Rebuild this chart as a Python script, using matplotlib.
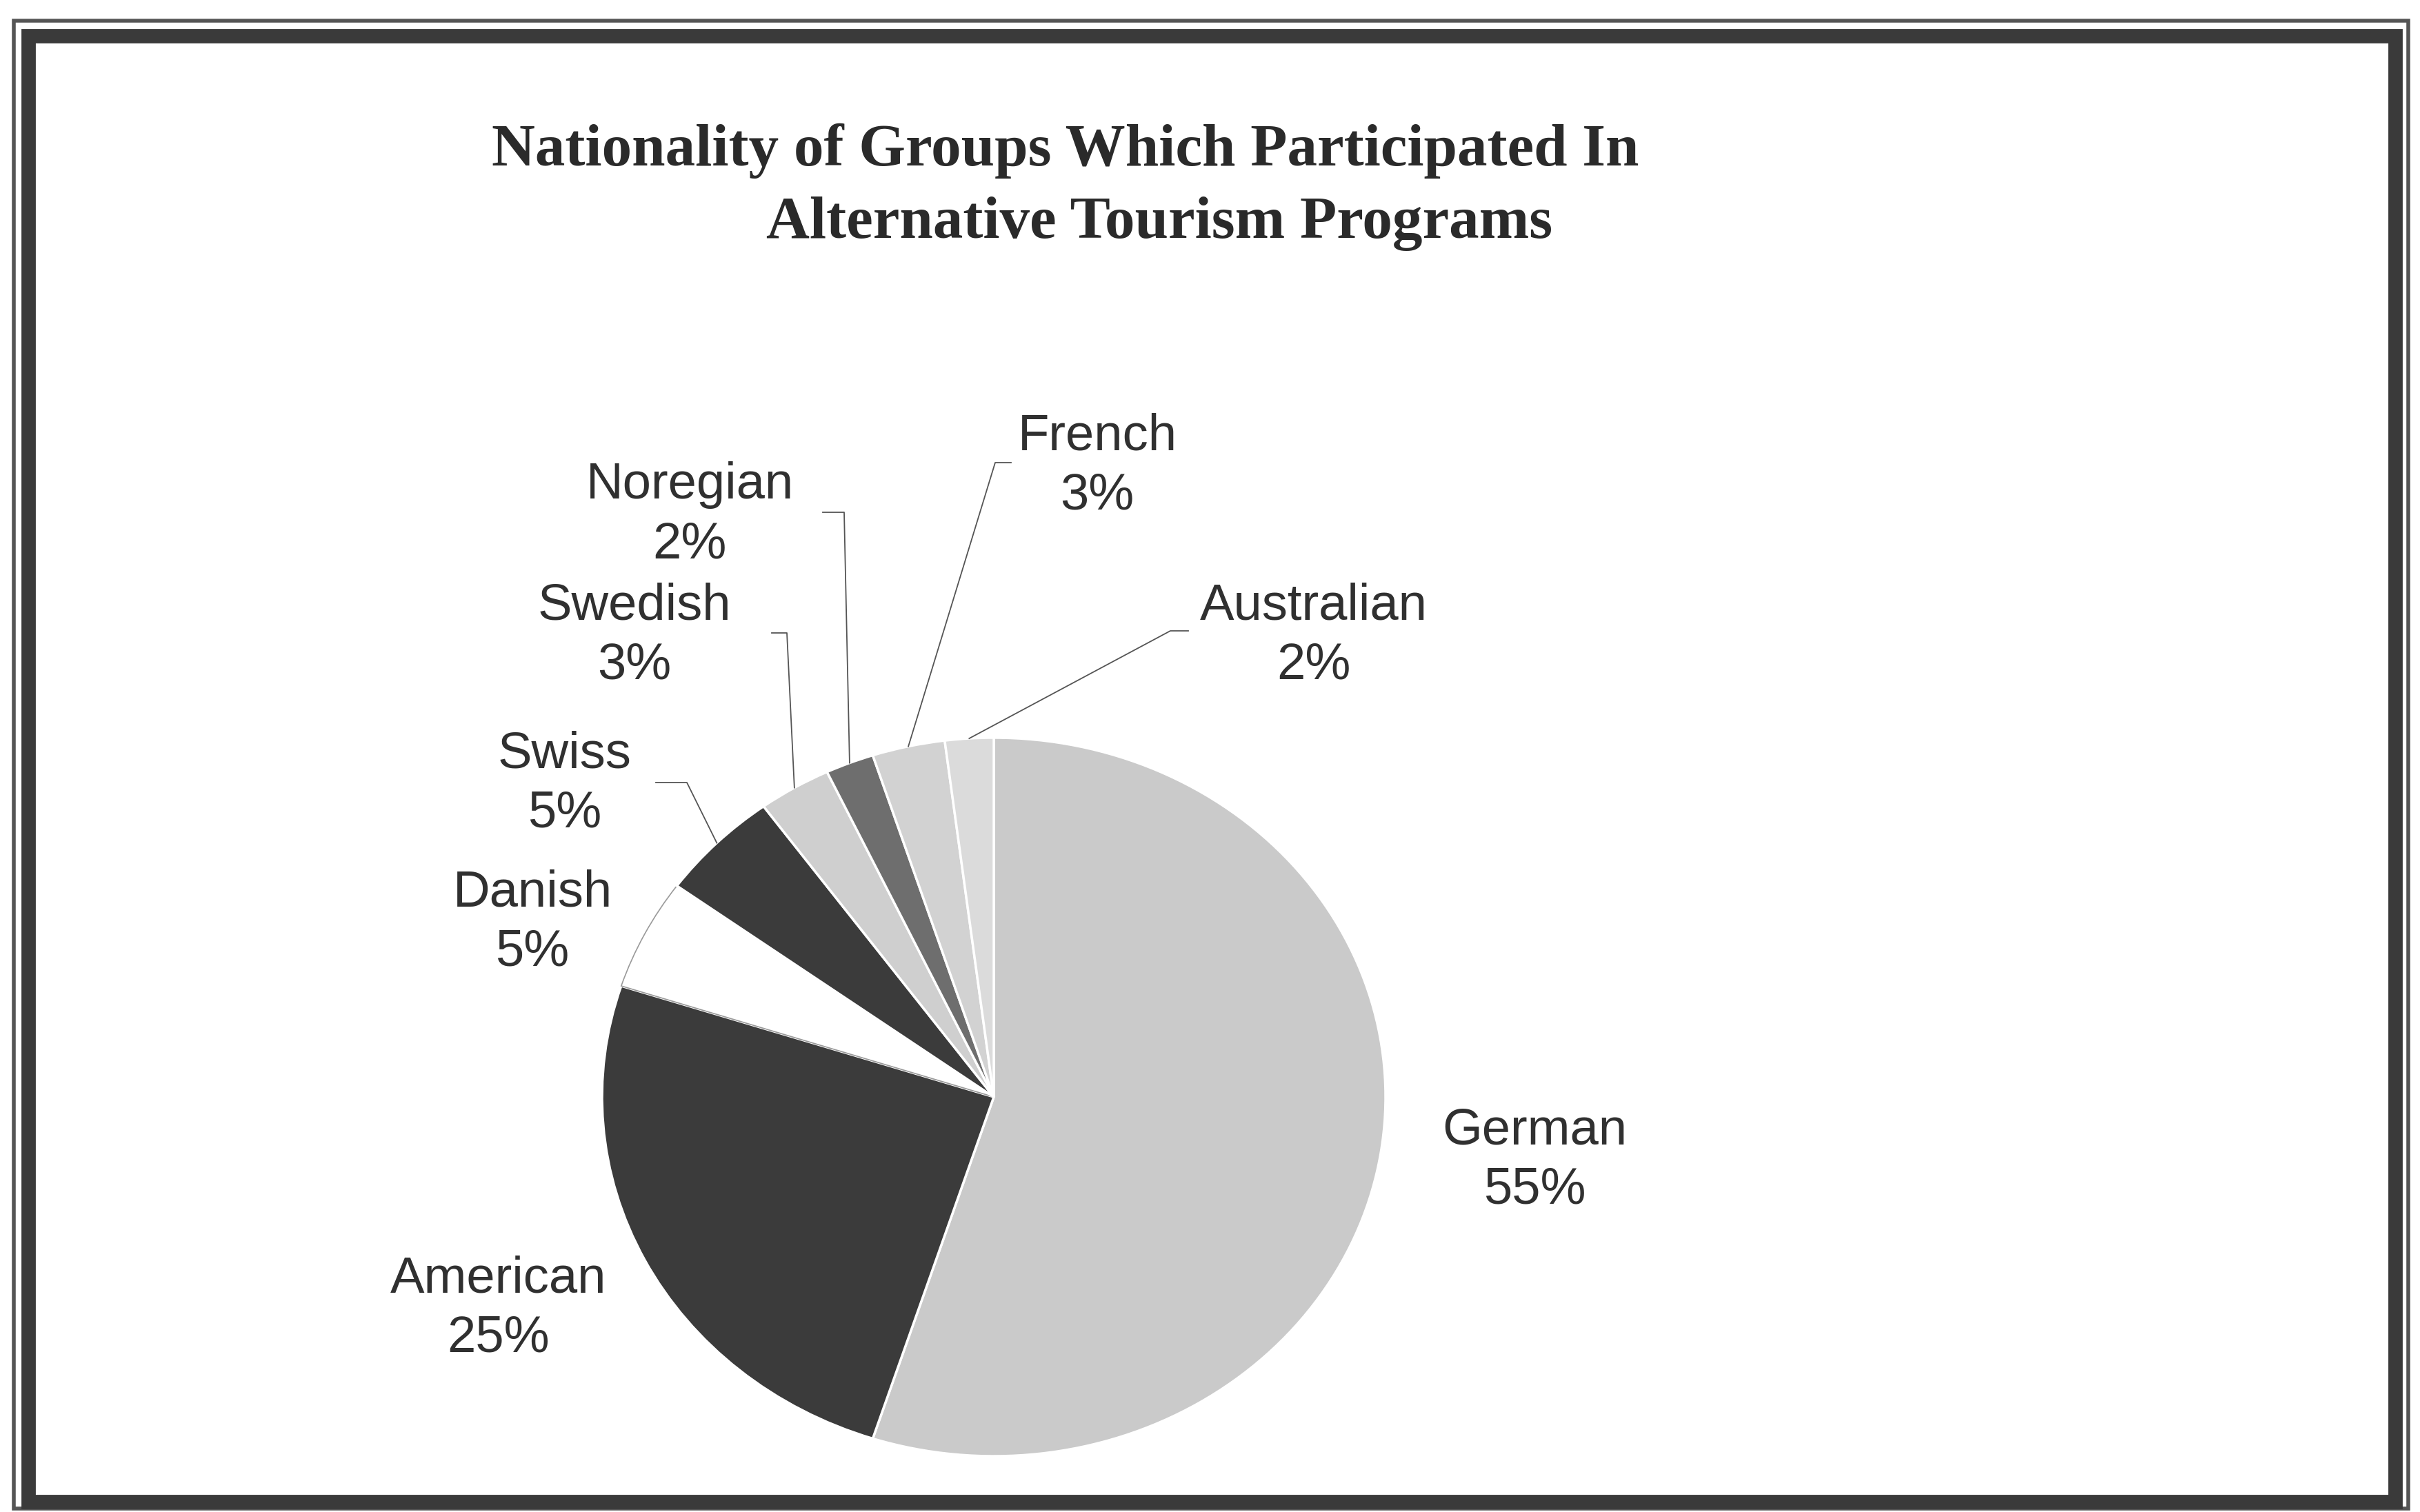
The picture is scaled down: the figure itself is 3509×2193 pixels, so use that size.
import numpy as np
import matplotlib
matplotlib.use("Agg")
import matplotlib.pyplot as plt
from matplotlib.patches import Rectangle

# data (clockwise from 12 o'clock)
nationalities = ["German", "American", "Danish", "Swiss", "Swedish",
                 "Noregian", "French", "Australian"]
shares = [55, 25, 5, 5, 3, 2, 3, 2]
title_lines = ["Nationality of Groups Which Participated In",
               "Alternative Tourism Programs"]

W, H = 3509, 2193
colors = ["#cacaca", "#3b3b3b", "#ffffff", "#3b3b3b", "#cfcfcf",
          "#6e6e6e", "#d2d2d2", "#dbdbdb"]

# label block centres in pixels (layout only)
label_pos = {
    "German": (2225, 1683), "American": (723, 1898), "Danish": (772, 1338),
    "Swiss": (819, 1137), "Swedish": (920, 922), "Noregian": (1000, 747),
    "French": (1591, 676), "Australian": (1905, 922),
}
# leader elbow and end (pixels); None = no leader
leader = {
    "Swiss": ((996, 1135), (951, 1135)),
    "Swedish": ((1141, 918), (1119, 918)),
    "Noregian": ((1224, 743), (1193, 743)),
    "French": ((1443, 671), (1466, 671)),
    "Australian": ((1697, 915), (1723, 915)),
}

# pie ellipse in pixels
cx, cy, rx, ry = 1441, 1591, 568, 521


def main():
    fig = plt.figure(figsize=(W / 100, H / 100), dpi=100)
    fig.patch.set_facecolor("white")

    # double frame around the chart
    fig.patches.append(Rectangle((20 / W, 5 / H), 3472 / W, 2158 / H,
                                 transform=fig.transFigure, fill=False,
                                 ec="#555555", lw=4.0))
    fig.patches.append(Rectangle((41 / W, 15 / H), 3432 / W, 2126 / H,
                                 transform=fig.transFigure, fill=False,
                                 ec="#3a3a3a", lw=15))

    pax = fig.add_axes([(cx - rx) / W, (H - cy - ry) / H, 2 * rx / W, 2 * ry / H])
    wedges, _ = pax.pie(shares, colors=colors, startangle=90, counterclock=False,
                        wedgeprops=dict(edgecolor="white", linewidth=2.5))
    wedges[2].set_edgecolor("#9a9a9a")
    wedges[2].set_linewidth(1.2)
    pax.set_aspect("auto")
    pax.set_xlim(-1, 1)
    pax.set_ylim(-1, 1)
    pax.axis("off")

    # overlay in pixel coordinates for text and leaders
    ax = fig.add_axes([0, 0, 1, 1], facecolor="none")
    ax.set_xlim(0, W)
    ax.set_ylim(H, 0)
    ax.axis("off")

    ax.text(1545, 219, title_lines[0], family="Liberation Serif",
            weight="bold", fontsize=62.7, color="#2a2a2a", ha="center", va="center")
    ax.text(1681, 325, title_lines[1], family="Liberation Serif",
            weight="bold", fontsize=62.7, color="#2a2a2a", ha="center", va="center")

    total = sum(shares)
    cum = 0
    for name, val, w in zip(nationalities, shares, wedges):
        mid = 90 - (cum + val / 2) / total * 360
        cum += val
        x, y = label_pos[name]
        ax.text(x, y, f"{name}\n{val}%", family="Liberation Sans", fontsize=53.5,
                color="#303030", ha="center", va="center", multialignment="center",
                linespacing=1.33)
        if name in leader:
            ex = cx + rx * np.cos(np.radians(mid))
            ey = cy - ry * np.sin(np.radians(mid))
            (bx, by), (tx, ty) = leader[name]
            ax.plot([ex, bx, tx], [ey, by, ty], color="#555555", lw=1.3)

    fig.savefig("out.png", dpi=100)


if __name__ == "__main__":
    main()
